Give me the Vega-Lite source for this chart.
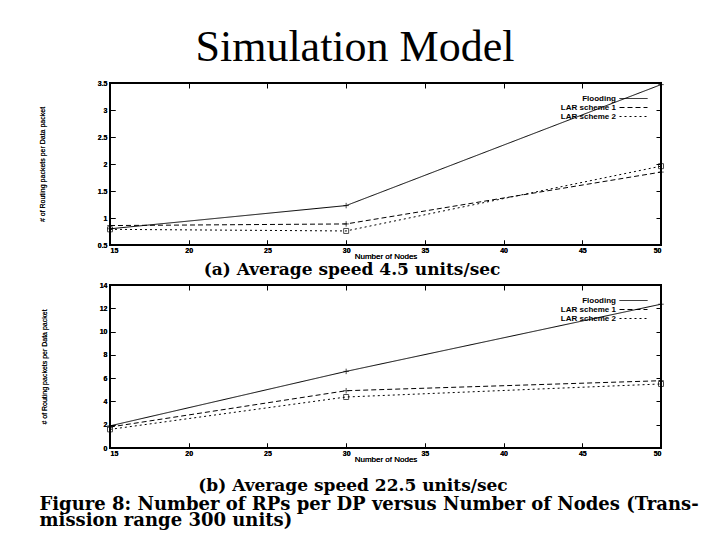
{
  "$schema": "https://vega.github.io/schema/vega-lite/v6.json",
  "background": "white",
  "padding": {"left": 37, "top": 26, "right": 10, "bottom": 5},
  "title": {"text": "Simulation Model", "font": "Liberation Serif", "fontSize": 44, "fontWeight": "normal", "color": "black", "anchor": "middle", "offset": 8, "dx": -13},
  "datasets": {
    "a": [
      {"nodes": 15, "scheme": "Flooding", "value": 0.8},
      {"nodes": 30, "scheme": "Flooding", "value": 1.23},
      {"nodes": 50, "scheme": "Flooding", "value": 3.47},
      {"nodes": 15, "scheme": "LAR scheme 1", "value": 0.86},
      {"nodes": 30, "scheme": "LAR scheme 1", "value": 0.89},
      {"nodes": 50, "scheme": "LAR scheme 1", "value": 1.85},
      {"nodes": 15, "scheme": "LAR scheme 2", "value": 0.79},
      {"nodes": 30, "scheme": "LAR scheme 2", "value": 0.76},
      {"nodes": 50, "scheme": "LAR scheme 2", "value": 1.96}
    ],
    "b": [
      {"nodes": 15, "scheme": "Flooding", "value": 1.9},
      {"nodes": 30, "scheme": "Flooding", "value": 6.58},
      {"nodes": 50, "scheme": "Flooding", "value": 12.35},
      {"nodes": 15, "scheme": "LAR scheme 1", "value": 1.8},
      {"nodes": 30, "scheme": "LAR scheme 1", "value": 4.92},
      {"nodes": 50, "scheme": "LAR scheme 1", "value": 5.78},
      {"nodes": 15, "scheme": "LAR scheme 2", "value": 1.6},
      {"nodes": 30, "scheme": "LAR scheme 2", "value": 4.38},
      {"nodes": 50, "scheme": "LAR scheme 2", "value": 5.5}
    ],
    "caption": [{"k": 1}]
  },
  "spacing": 1,
  "resolve": {"legend": {"strokeDash": "independent"}},
  "vconcat": [
    {
      "width": 551,
      "height": 162,
      "data": {"name": "a"},
      "title": {"text": "(a) Average speed 4.5 units/sec", "orient": "bottom", "frame": "bounds", "font": "DejaVu Serif", "fontSize": 17, "fontWeight": "bold", "color": "black", "anchor": "middle", "offset": 2},
      "encoding": {
        "x": {"field": "nodes", "type": "quantitative", "scale": {"domain": [15, 50], "nice": false, "zero": false},
              "axis": {"values": [15, 20, 25, 30, 35, 40, 45, 50], "title": "Number of Nodes"}},
        "y": {"field": "value", "type": "quantitative", "scale": {"domain": [0.5, 3.5], "nice": false, "zero": false},
              "axis": {"values": [0.5, 1, 1.5, 2, 2.5, 3, 3.5], "format": "~g", "title": "# of Routing packets per Data packet"}}
      },
      "layer": [
        {
          "mark": {"type": "line", "color": "black", "strokeWidth": 1, "interpolate": "linear"},
          "encoding": {
            "strokeDash": {"field": "scheme", "type": "nominal", "title": null,
              "scale": {"domain": ["Flooding", "LAR scheme 1", "LAR scheme 2"], "range": [[1, 0], [5, 3], [2, 3]]}}
          }
        },
        {
          "transform": [{"filter": "datum.scheme !== 'LAR scheme 2'"}],
          "mark": {"type": "point", "color": "black", "filled": false, "size": 30, "strokeWidth": 1, "shape": "M-1,0L1,0M0,-1L0,1"},
          "encoding": {
            "x": {"field": "nodes", "type": "quantitative", "scale": {"domain": [15, 50], "nice": false, "zero": false},
                  "axis": {"orient": "top", "values": [15, 20, 25, 30, 35, 40, 45, 50], "labels": false, "title": null}},
            "y": {"field": "value", "type": "quantitative", "scale": {"domain": [0.5, 3.5], "nice": false, "zero": false},
                  "axis": {"orient": "right", "values": [0.5, 1, 1.5, 2, 2.5, 3, 3.5], "labels": false, "title": null}}
          }
        },
        {
          "transform": [{"filter": "datum.scheme === 'LAR scheme 2'"}],
          "mark": {"type": "point", "color": "black", "filled": false, "size": 25, "strokeWidth": 1, "shape": "square"},
          "encoding": {}
        }
      ],
      "resolve": {"axis": {"x": "independent", "y": "independent"}}
    },
    {
      "width": 551,
      "height": 163,
      "data": {"name": "b"},
      "title": {"text": "(b) Average speed 22.5 units/sec", "orient": "bottom", "frame": "bounds", "font": "DejaVu Serif", "fontSize": 17, "fontWeight": "bold", "color": "black", "anchor": "middle", "offset": 15},
      "encoding": {
        "x": {"field": "nodes", "type": "quantitative", "scale": {"domain": [15, 50], "nice": false, "zero": false},
              "axis": {"values": [15, 20, 25, 30, 35, 40, 45, 50], "title": "Number of Nodes"}},
        "y": {"field": "value", "type": "quantitative", "scale": {"domain": [0, 14], "nice": false},
              "axis": {"values": [0, 2, 4, 6, 8, 10, 12, 14], "format": "~g", "title": "# of Routing packets per Data packet"}}
      },
      "layer": [
        {
          "mark": {"type": "line", "color": "black", "strokeWidth": 1, "interpolate": "linear"},
          "encoding": {
            "strokeDash": {"field": "scheme", "type": "nominal", "title": null,
              "scale": {"domain": ["Flooding", "LAR scheme 1", "LAR scheme 2"], "range": [[1, 0], [5, 3], [2, 3]]}}
          }
        },
        {
          "transform": [{"filter": "datum.scheme !== 'LAR scheme 2'"}],
          "mark": {"type": "point", "color": "black", "filled": false, "size": 30, "strokeWidth": 1, "shape": "M-1,0L1,0M0,-1L0,1"},
          "encoding": {
            "x": {"field": "nodes", "type": "quantitative", "scale": {"domain": [15, 50], "nice": false, "zero": false},
                  "axis": {"orient": "top", "values": [15, 20, 25, 30, 35, 40, 45, 50], "labels": false, "title": null}},
            "y": {"field": "value", "type": "quantitative", "scale": {"domain": [0, 14], "nice": false},
                  "axis": {"orient": "right", "values": [0, 2, 4, 6, 8, 10, 12, 14], "labels": false, "title": null}}
          }
        },
        {
          "transform": [{"filter": "datum.scheme === 'LAR scheme 2'"}],
          "mark": {"type": "point", "color": "black", "filled": false, "size": 25, "strokeWidth": 1, "shape": "square"},
          "encoding": {}
        }
      ],
      "resolve": {"axis": {"x": "independent", "y": "independent"}}
    },
    {
      "width": 551,
      "height": 1,
      "data": {"name": "caption"},
      "view": {"stroke": null},
      "mark": {"type": "rule", "opacity": 0},
      "encoding": {},
      "title": {"text": ["Figure 8: Number of RPs per DP versus Number of Nodes (Trans-", "mission range 300 units)"], "orient": "bottom", "anchor": "start", "dx": -70, "dy": -12, "font": "DejaVu Serif", "fontSize": 18, "fontWeight": "bold", "color": "black", "lineHeight": 16}
    }
  ],
  "config": {
    "view": {"stroke": "black", "strokeWidth": 2},
    "axis": {
      "domain": false,
      "grid": false,
      "tickSize": -5,
      "tickColor": "black",
      "tickWidth": 1,
      "labelFont": "Liberation Sans",
      "labelFontSize": 7,
      "labelFontWeight": "bold",
      "labelColor": "black",
      "labelPadding": 8,
      "titleFont": "Liberation Sans",
      "titleFontWeight": "normal",
      "titleColor": "black"
    },
    "axisX": {"titleFontSize": 8, "titlePadding": -1, "labelPadding": 6},
    "axisY": {"titleFontSize": 7, "titlePadding": 52},
    "legend": {
      "orient": "top-right",
      "offset": 11,
      "labelFont": "Liberation Sans",
      "labelFontSize": 8,
      "labelFontWeight": "bold",
      "labelColor": "black",
      "labelAlign": "right",
      "labelOffset": -22,
      "symbolType": "M-3.5,0L3.5,0",
      "symbolSize": 64,
      "symbolStrokeColor": "black",
      "symbolFillColor": "transparent",
      "symbolStrokeWidth": 1,
      "rowPadding": -2,
      "padding": 0
    }
  }
}
